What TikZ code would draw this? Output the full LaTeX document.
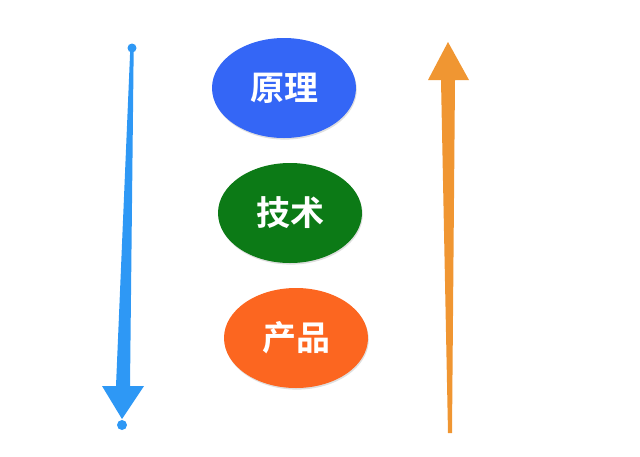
\documentclass[tikz,border=0pt]{standalone}
\usepackage{fontspec}
\newfontfamily\cjk{Noto Sans CJK SC}[BoldFont={* Bold}]
\usetikzlibrary{shapes.geometric,shadows}
\definecolor{principleblue}{RGB}{52,102,246}
\definecolor{techgreen}{RGB}{12,122,22}
\definecolor{productorange}{RGB}{252,102,32}
\definecolor{downblue}{RGB}{46,152,245}
\definecolor{uporange}{RGB}{240,150,50}
\tikzset{
  stage/.style={ellipse, minimum width=144pt, minimum height=100pt, inner sep=0pt,
    text=white, font=\cjk\bfseries\fontsize{34}{40}\selectfont,
    drop shadow={opacity=0.25, shadow xshift=0.8pt, shadow yshift=-1.6pt}},
}
\begin{document}
\begin{tikzpicture}[x=1pt,y=-1pt]
    \useasboundingbox (0,0) rectangle (640,456);

    % Drawing stage ellipses
    \node [stage, fill=principleblue] (yuanli) at (284,88) {原理};
    \node [stage, fill=techgreen] (jishu) at (290,213) {技术};
    \node [stage, fill=productorange] (chanpin) at (296,338) {产品};

    % Marking end points of the arrows
    \coordinate (downstart) at (132,48);
    \coordinate (downend) at (122,425);
    \coordinate (uptip) at (448,42);
    \coordinate (upstart) at (450,433);

    % Drawing downward arrow
    \fill [downblue] (130.3,48) -- (133.7,48) -- (130,386) -- (144,386) -- (122,419)
                     -- (102,386) -- (116,386) -- cycle;%
    \fill [downblue] (downstart) circle (4.5);%
    \fill [downblue] (downend) circle (5);%

    % Drawing upward arrow
    \fill [uporange] (448,433) -- (452,433) -- (455,80) -- (469,80) -- (uptip)
                     -- (428,80) -- (441,80) -- cycle;%
\end{tikzpicture}
\end{document}
